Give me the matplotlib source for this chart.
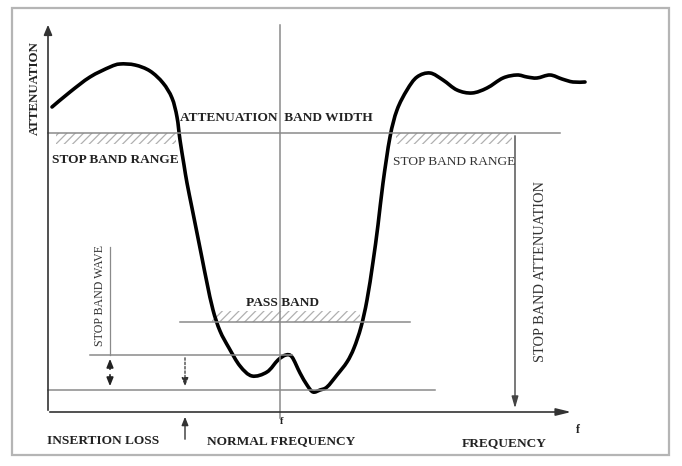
import matplotlib
matplotlib.use("Agg")
import matplotlib.pyplot as plt
from matplotlib.patches import Rectangle, PathPatch
from matplotlib.path import Path

# ---- data (diagram coordinates: x = frequency position, y = screen depth) ----
curve_x = [52, 70, 90, 110, 120, 135, 150, 163, 172, 177, 180, 184, 187, 192, 197, 202, 207,
           213, 220, 229, 240, 252, 267, 278, 286, 292, 300, 307, 313, 320, 327, 337, 347, 354,
           361, 367, 373, 378, 383, 390, 397, 407, 417, 430, 443, 457, 472, 487, 503, 517, 527,
           537, 550, 562, 573, 585]
curve_y = [107, 92, 77, 67, 64, 65, 71, 83, 98, 117, 140, 165, 183, 208, 233, 258, 283,
           310, 331, 348, 366, 376, 372, 360, 355, 357, 373, 385, 392, 390, 387, 375, 362, 348,
           327, 300, 262, 225, 183, 137, 110, 90, 77, 73, 80, 90, 93, 88, 78, 75, 77,
           78, 75, 79, 82, 82]

stop_band_level = 133
pass_band_level = 322
ripple_top = 355
ripple_bottom = 390
axis_level = 412
center_freq = 280
stop_att_x = 515

labels = {
    "ylabel": "ATTENUATION",
    "bandwidth": "ATTENUATION  BAND WIDTH",
    "stop_left": "STOP BAND RANGE",
    "stop_right": "STOP BAND RANGE",
    "stop_att": "STOP BAND ATTENUATION",
    "stop_wave": "STOP BAND WAVE",
    "pass": "PASS BAND",
    "ins": "INSERTION LOSS",
    "normal": "NORMAL FREQUENCY",
    "freq": "FREQUENCY",
}

fig = plt.figure(figsize=(6.82, 4.66), dpi=100)
ax = fig.add_axes([0, 0, 1, 1])
ax.set_xlim(0, 682)
ax.set_ylim(466, 0)
ax.axis("off")

grey = "#8a8a8a"
font = dict(family="Liberation Serif", weight="bold", color="#222222")
font_n = dict(family="Liberation Serif", color="#333333")

# outer frame
ax.add_patch(Rectangle((12, 8), 657, 447, fill=False, edgecolor="#b5b5b5", lw=1.6))

# axes with arrows
ax.annotate("", xy=(48, 22), xytext=(48, axis_level + 1),
            arrowprops=dict(arrowstyle="-|>,head_width=0.25,head_length=0.6", color="#333333", lw=1.2))
ax.annotate("", xy=(574, axis_level), xytext=(47, axis_level),
            arrowprops=dict(arrowstyle="-|>,head_width=0.22,head_length=0.9", color="#333333", lw=1.2))

# centre frequency line
ax.plot([center_freq, center_freq], [25, 418], color=grey, lw=1.1)

# horizontal reference lines
ax.plot([48, 560], [stop_band_level] * 2, color=grey, lw=1.1)
ax.plot([180, 410], [pass_band_level] * 2, color=grey, lw=1.1)
ax.plot([90, 292], [ripple_top] * 2, color=grey, lw=1.1)
ax.plot([48, 435], [ripple_bottom] * 2, color=grey, lw=1.1)

# hatching
plt.rcParams["hatch.linewidth"] = 0.9
for (x0, x1, y0, y1) in [(56, 176, stop_band_level, stop_band_level + 11),
                         (396, 512, stop_band_level, stop_band_level + 11),
                         (212, 360, pass_band_level - 11, pass_band_level)]:
    ax.add_patch(Rectangle((x0, y0), x1 - x0, y1 - y0, fill=False, hatch="////",
                           edgecolor="#b0b0b0", lw=0))

# stop band attenuation arrow
ax.annotate("", xy=(stop_att_x, axis_level - 1), xytext=(stop_att_x, stop_band_level),
            arrowprops=dict(arrowstyle="-|>,head_width=0.2,head_length=0.7", color="#444444", lw=1.0))

# stop band wave arrows
ax.plot([110, 110], [247, ripple_top], color=grey, lw=0.9)
ax.annotate("", xy=(110, ripple_top + 1), xytext=(110, 372),
            arrowprops=dict(arrowstyle="-|>,head_width=0.2,head_length=0.5", color="#222222", lw=1.2))
ax.annotate("", xy=(110, ripple_bottom - 1), xytext=(110, 372),
            arrowprops=dict(arrowstyle="-|>,head_width=0.2,head_length=0.5", color="#222222", lw=1.2))

# insertion loss arrows
ax.annotate("", xy=(185, ripple_bottom - 1), xytext=(185, ripple_top),
            arrowprops=dict(arrowstyle="-|>,head_width=0.2,head_length=0.5", color="#333333",
                            lw=0.9, linestyle=(0, (2, 1.5))))
ax.annotate("", xy=(185, axis_level + 2), xytext=(185, 442),
            arrowprops=dict(arrowstyle="-|>,head_width=0.2,head_length=0.5", color="#333333", lw=1.0))

# response curve: smooth cubic Bezier path through the read points (Catmull-Rom tangents)
pts = list(zip(curve_x, curve_y))
verts = [pts[0]]
codes = [Path.MOVETO]
n = len(pts)
for i in range(n - 1):
    p0 = pts[i - 1] if i > 0 else pts[i]
    p1 = pts[i]
    p2 = pts[i + 1]
    p3 = pts[i + 2] if i + 2 < n else pts[i + 1]
    c1 = (p1[0] + (p2[0] - p0[0]) / 6.0, p1[1] + (p2[1] - p0[1]) / 6.0)
    c2 = (p2[0] - (p3[0] - p1[0]) / 6.0, p2[1] - (p3[1] - p1[1]) / 6.0)
    verts += [c1, c2, p2]
    codes += [Path.CURVE4, Path.CURVE4, Path.CURVE4]
ax.add_patch(PathPatch(Path(verts, codes), fill=False, edgecolor="black", lw=2.6,
                       capstyle="round", joinstyle="round"))

# texts
fs = 9.6
ax.text(35, 88, labels["ylabel"], rotation=90, ha="center", va="center", fontsize=9.3, **font)
ax.text(180, 118, labels["bandwidth"], ha="left", va="center", fontsize=fs, **font)
ax.text(52, 160, labels["stop_left"], ha="left", va="center", fontsize=fs, **font)
ax.text(393, 162, labels["stop_right"], ha="left", va="center", fontsize=fs, **font_n)
ax.text(540, 272, labels["stop_att"], rotation=90, ha="center", va="center", fontsize=10.4, **font_n)
ax.text(100, 296, labels["stop_wave"], rotation=90, ha="center", va="center", fontsize=8.6, **font_n)
ax.text(282, 303, labels["pass"], ha="center", va="center", fontsize=fs, **font)
ax.text(47, 441, labels["ins"], ha="left", va="center", fontsize=fs, **font)
ax.text(207, 441, labels["normal"], ha="left", va="center", fontsize=fs, **font)
ax.text(462, 443, labels["freq"], ha="left", va="center", fontsize=fs, **font)
ax.text(280, 421, "f", ha="left", va="center", fontsize=7.5, **font)
ax.text(576, 430, "f", ha="left", va="center", fontsize=8.5, **font)

fig.savefig("out.png", dpi=100)
